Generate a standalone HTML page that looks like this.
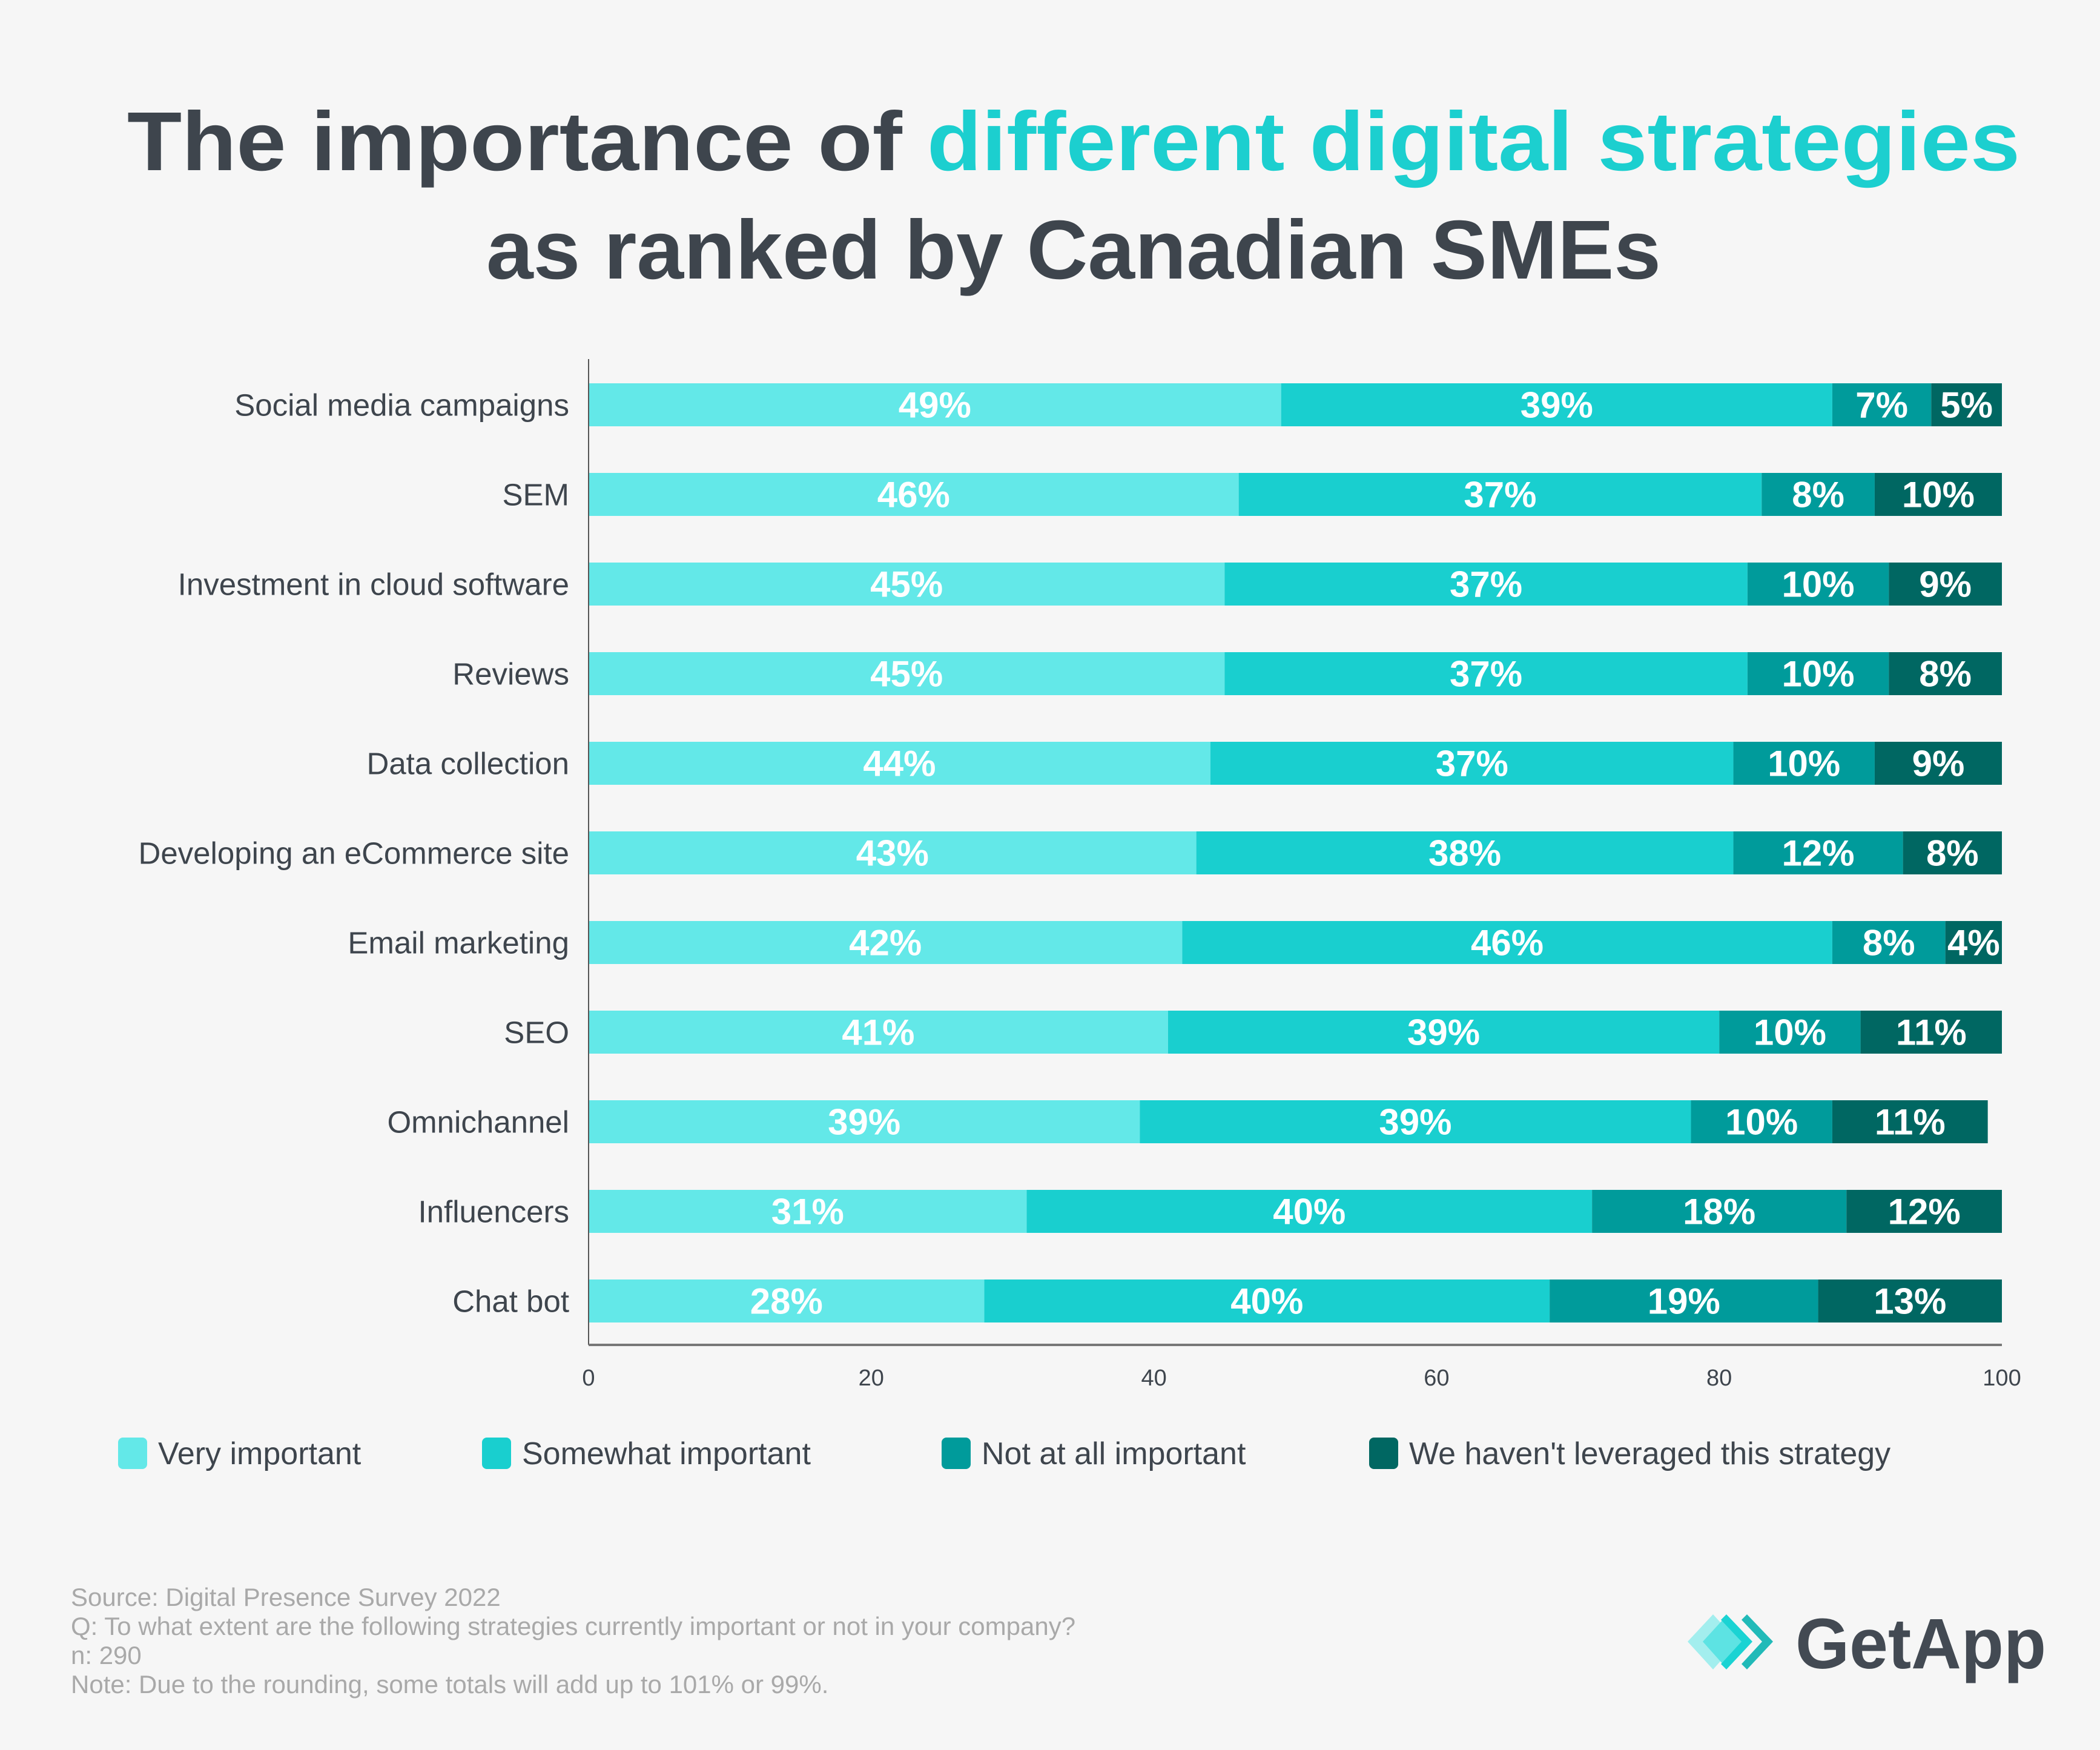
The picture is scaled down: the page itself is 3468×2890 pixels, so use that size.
<!DOCTYPE html>
<html><head><meta charset="utf-8">
<style>
html,body{margin:0;padding:0;background:#f6f6f6;}
svg{display:block;font-family:"Liberation Sans",sans-serif;}
</style></head>
<body>
<svg id="chart" width="3468" height="2890" viewBox="0 0 3468 2890" xmlns="http://www.w3.org/2000/svg">
<rect width="3468" height="2890" fill="#f6f6f6"/>
<text x="210" y="281" font-size="138" font-weight="bold" fill="#3e454d" textLength="3126" lengthAdjust="spacingAndGlyphs">The importance of <tspan fill="#1ccfcf">different digital strategies</tspan></text>
<text x="803" y="460" font-size="138" font-weight="bold" fill="#3e454d" textLength="1940" lengthAdjust="spacingAndGlyphs">as ranked by Canadian SMEs</text>
<g id="plot"></g>
<g font-size="42" fill="#a9a9a9">
<text x="117" y="2652">Source: Digital Presence Survey 2022</text>
<text x="117" y="2700">Q: To what extent are the following strategies currently important or not in your company?</text>
<text x="117" y="2748">n: 290</text>
<text x="117" y="2796">Note: Due to the rounding, some totals will add up to 101% or 99%.</text>
</g>
<g>
<polygon points="2787,2711 2829,2666 2870,2711 2829,2757" fill="#a3eeee"/>
<polygon points="2812,2711 2845,2675 2878,2711 2845,2748" fill="#5de3e3"/>
<polygon points="2851,2666 2894,2711 2851,2757 2842,2748 2876,2711 2842,2675" fill="#1bd3d3"/>
<polygon points="2885,2666 2928,2711 2885,2757 2876,2748 2910,2711 2876,2675" fill="#21bab8"/>
<text x="2965" y="2755" font-size="118" font-weight="bold" fill="#434a53" textLength="414" lengthAdjust="spacingAndGlyphs">GetApp</text>
</g>
</svg>
<script>
const categories = ["Social media campaigns","SEM","Investment in cloud software","Reviews","Data collection","Developing an eCommerce site","Email marketing","SEO","Omnichannel","Influencers","Chat bot"];
const veryImportant = [49,46,45,45,44,43,42,41,39,31,28];
const somewhatImportant = [39,37,37,37,37,38,46,39,39,40,40];
const notImportant = [7,8,10,10,10,12,8,10,10,18,19];
const notLeveraged = [5,10,9,8,9,8,4,11,11,12,13];
const seriesNames = ["Very important","Somewhat important","Not at all important","We haven't leveraged this strategy"];
const xTicks = [0,20,40,60,80,100];

const colors = ["#63e8e8","#19cfcf","#009b9b","#006762"];
const series = [veryImportant, somewhatImportant, notImportant, notLeveraged];
const NS = "http://www.w3.org/2000/svg";
const plot = document.getElementById("plot");
const x0 = 972, x1 = 3306, yTop = 593, yBot = 2221;
const firstBarTop = 633, rowStep = 148, barH = 71;
const xs = v => x0 + (x1 - x0) * Math.min(v,100) / 100;
const yRow = i => firstBarTop + i * rowStep;
function mk(tag, attrs){const e=document.createElementNS(NS,tag);for(const k in attrs)e.setAttribute(k,attrs[k]);return e;}

categories.forEach((cat,i)=>{
  const lab = mk("text",{x:940,y:yRow(i)+barH/2+18,"text-anchor":"end","font-size":51,fill:"#3e454d"});
  
  
  lab.textContent = cat;
  plot.appendChild(lab);
  let acc = 0;
  series.forEach((s,k)=>{
    const v = s[i];
    const a = xs(acc), b = xs(acc+v);
    const r = mk("rect",{x:a,y:yRow(i),width:Math.max(0,b-a),height:barH,fill:colors[k]});
    
    
    plot.appendChild(r);
    const t = mk("text",{x:(a+b)/2,y:yRow(i)+barH/2+21,"text-anchor":"middle","font-size":60,"font-weight":"bold",fill:"#ffffff"});
    
    
    t.textContent = v + "%";
    plot.appendChild(t);
    acc += v;
  });
});

const yAxis = mk("line",{x1:x0,y1:yTop,x2:x0,y2:yBot,stroke:"#555","stroke-width":2});


plot.appendChild(yAxis);
const xAxis = mk("line",{x1:x0,y1:yBot,x2:x1,y2:yBot,stroke:"#777","stroke-width":4});


plot.appendChild(xAxis);
xTicks.forEach(v=>{
  const t = mk("text",{x:xs(v),y:2288,"text-anchor":"middle","font-size":38,fill:"#3e454d"});
  
  
  t.textContent = v;
  plot.appendChild(t);
});

const legendSwatchX = [195,796,1555,2261];
seriesNames.forEach((n,k)=>{
  const r = mk("rect",{x:legendSwatchX[k],y:2374,width:48,height:52,rx:8,fill:colors[k]});
  
  
  plot.appendChild(r);
  const t = mk("text",{x:legendSwatchX[k]+66,y:2418,"font-size":52,fill:"#3e454d"});
  
  
  t.textContent = n;
  plot.appendChild(t);
});
</script>
</body></html>
